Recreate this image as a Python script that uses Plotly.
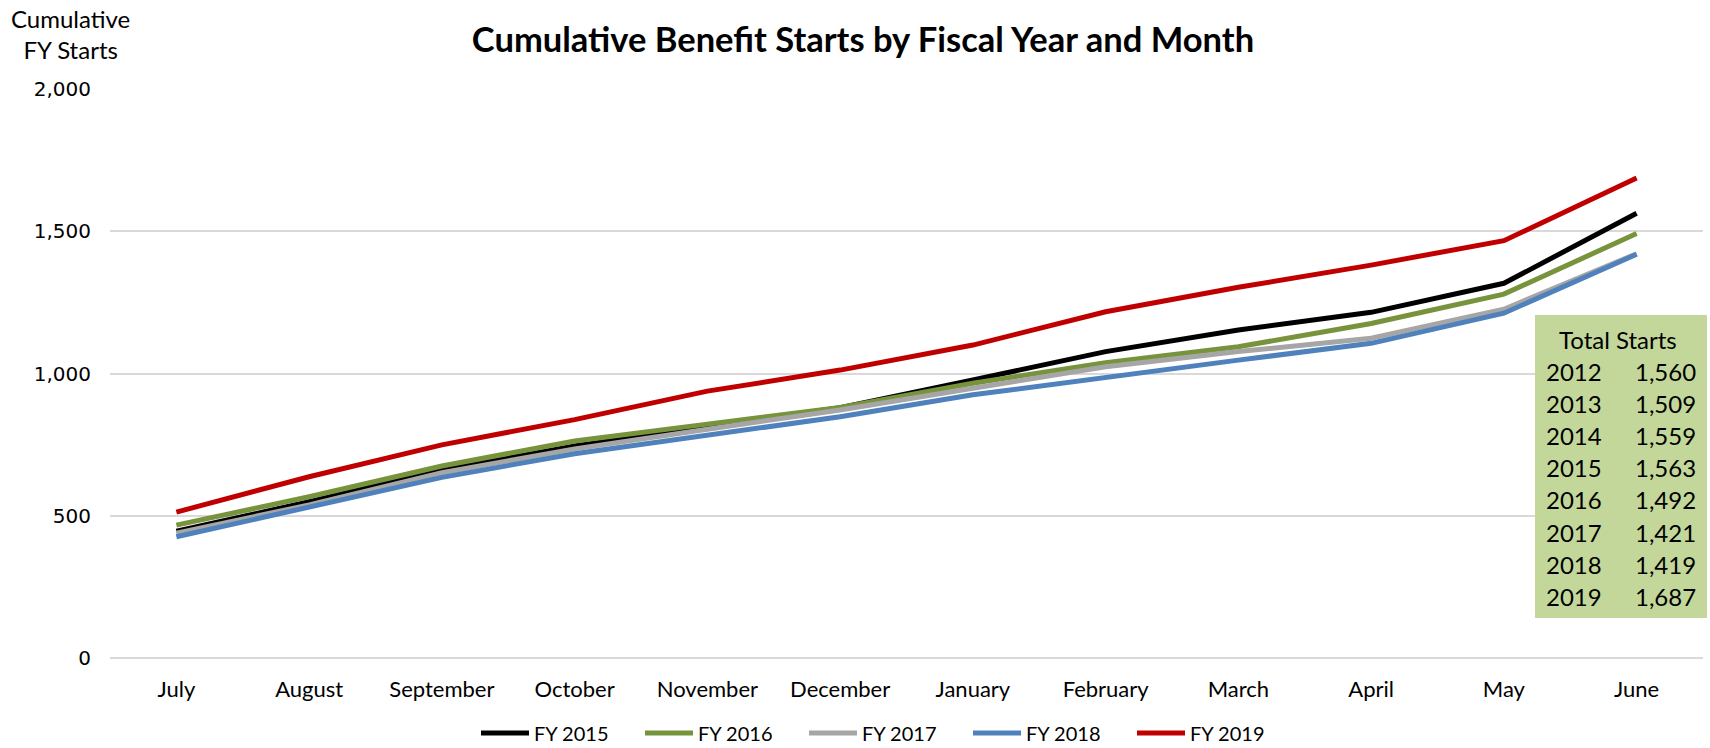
import plotly.graph_objects as go

months = ["July", "August", "September", "October", "November", "December",
          "January", "February", "March", "April", "May", "June"]

fy2015 = [446, 549, 661, 745, 813, 880, 977, 1077, 1153, 1215, 1317, 1563]
fy2016 = [467, 567, 675, 763, 822, 881, 966, 1038, 1094, 1176, 1279, 1492]
fy2017 = [439, 538, 651, 735, 804, 872, 948, 1024, 1077, 1124, 1226, 1421]
fy2018 = [426, 532, 635, 718, 784, 848, 925, 987, 1047, 1106, 1212, 1419]
fy2019 = [513, 637, 749, 838, 938, 1012, 1100, 1217, 1303, 1381, 1467, 1687]

series_names = ["FY 2015", "FY 2016", "FY 2017", "FY 2018", "FY 2019"]
series_vals = [fy2015, fy2016, fy2017, fy2018, fy2019]
series_colors = ["#000000", "#77933C", "#A6A6A6", "#4F81BD", "#C00000"]

total_years = ["2012", "2013", "2014", "2015", "2016", "2017", "2018", "2019"]
total_starts = [1560, 1509, 1559, 1563, 1492, 1421, 1419, 1687]

y_ticks = [0, 500, 1000, 1500, 2000]

W, H = 1710, 748
L, R, T, B = 110, 1703, 89, 658
pw, ph = R - L, B - T


def px(x):
    return (x - L) / pw


def py(y):
    return (B - y) / ph


fig = go.Figure()
for name, vals, col in zip(series_names, series_vals, series_colors):
    fig.add_trace(go.Scatter(x=months, y=vals, name=name, mode="lines",
                             line=dict(color=col, width=5)))

FONT = "Lato"

annotations = []
# y axis title
annotations.append(dict(xref="paper", yref="paper", x=px(70), y=py(34),
                        text="Cumulative<br>FY Starts", showarrow=False,
                        xanchor="center", yanchor="middle", align="center",
                        font=dict(family=FONT, size=24, color="#000000")))
# table
annotations.append(dict(xref="paper", yref="paper", x=px(1618), y=py(339),
                        text="Total Starts", showarrow=False,
                        xanchor="center", yanchor="middle",
                        font=dict(family=FONT, size=24, color="#000000")))
for i, (yr, v) in enumerate(zip(total_years, total_starts)):
    yy = 371 + 32.2 * i
    annotations.append(dict(xref="paper", yref="paper", x=px(1544), y=py(yy),
                            text=yr, showarrow=False, xanchor="left", yanchor="middle",
                            font=dict(family=FONT, size=24, color="#000000")))
    annotations.append(dict(xref="paper", yref="paper", x=px(1698), y=py(yy),
                            text=f"{v:,}", showarrow=False, xanchor="right", yanchor="middle",
                            font=dict(family=FONT, size=24, color="#000000")))

shapes = [dict(type="rect", xref="paper", yref="paper", layer="above",
               x0=px(1535), x1=px(1707), y0=py(618), y1=py(315),
               fillcolor="#C4D79B", line=dict(width=0))]

fig.update_layout(
    width=W, height=H,
    margin=dict(l=L, r=W - R, t=T, b=H - B, autoexpand=False),
    paper_bgcolor="white", plot_bgcolor="white",
    title=dict(text="<b>Cumulative Benefit Starts by Fiscal Year and Month</b>",
               x=863 / W, xanchor="center", y=1 - 40 / H, yanchor="middle",
               font=dict(family=FONT, size=34.5, color="#000000")),
    xaxis=dict(type="category", categoryorder="array", categoryarray=months,
               range=[-0.5, 11.5], showgrid=False, zeroline=False, showline=False,
               tickfont=dict(family=FONT, size=22, color="#000000"),
               ticklabelstandoff=16, fixedrange=True),
    yaxis=dict(range=[0, 2000], tickvals=y_ticks, tickformat=",d",
               showgrid=True, gridcolor="#D9D9D9", gridwidth=2,
               zeroline=True, zerolinecolor="#D9D9D9", zerolinewidth=2,
               showline=False,
               tickfont=dict(family="DejaVu Sans", size=20, color="#000000"),
               ticklabelstandoff=18, fixedrange=True),
    legend=dict(orientation="h", x=886 / W, xanchor="center",
                xref="container", yref="container", y=1 - 733 / H, yanchor="middle",
                font=dict(family=FONT, size=20, color="#000000"),
                itemwidth=48, entrywidth=101, traceorder="normal"),
    annotations=annotations,
    shapes=shapes,
    showlegend=True,
)

fig.write_html("out.html")
